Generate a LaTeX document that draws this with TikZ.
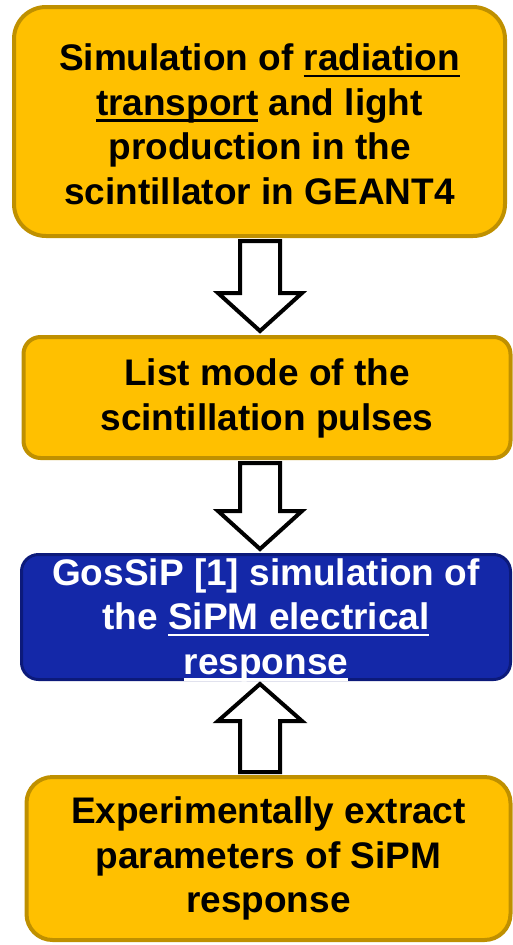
\documentclass[tikz,border=0pt]{standalone}
\usepackage{fontspec}
\setmainfont{Liberation Sans}
\usetikzlibrary{calc}
\definecolor{gold}{HTML}{FFC000}
\definecolor{golddk}{HTML}{BF9000}
\definecolor{bluef}{HTML}{1428A8}
\definecolor{bluedk}{HTML}{0C1A7A}
\newsavebox\myulbox
\newcommand\myul[1]{\sbox\myulbox{#1}\rlap{\rule[-6.5pt]{\wd\myulbox}{2.5pt}}\usebox\myulbox}
\begin{document}
\begin{tikzpicture}[x=1pt,y=-1pt,
  goldbox/.style={draw=golddk, fill=gold, line width=4pt, rounded corners=#1, inner sep=0pt},
  bluebox/.style={draw=bluedk, fill=bluef, line width=3pt, rounded corners=#1, inner sep=0pt},
  txt/.style={align=center, inner sep=0pt, font=\fontsize{37pt}{44.5pt}\selectfont\bfseries},
  barrow/.style={draw=black, fill=white, line width=4pt, line join=miter}]
\useasboundingbox (0,0) rectangle (513,945);
\node[goldbox=32pt, minimum width=491pt, minimum height=229pt] (b1) at (259.5,121.5) {};
\node[goldbox=17pt, minimum width=487pt, minimum height=121pt] (b2) at (267,397.5) {};
\node[bluebox=17pt, minimum width=489pt, minimum height=125pt] (b3) at (266,617) {};
\node[goldbox=26pt, minimum width=484pt, minimum height=163pt] (b4) at (268.5,858.5) {};
\coordinate (ax) at (260,0);
% down arrows
\draw[barrow] ($(b1.south -| ax)+(-20,3)$) -- ($(b2.north -| ax)+(-20,-42)$) -- ($(b2.north -| ax)+(-42,-42)$) -- ($(b2.north -| ax)+(0,-4)$) -- ($(b2.north -| ax)+(42,-42)$) -- ($(b2.north -| ax)+(20,-42)$) -- ($(b1.south -| ax)+(20,3)$) -- cycle;
\draw[barrow] ($(b2.south -| ax)+(-20,3)$) -- ($(b3.north -| ax)+(-20,-42)$) -- ($(b3.north -| ax)+(-42,-42)$) -- ($(b3.north -| ax)+(0,-4)$) -- ($(b3.north -| ax)+(42,-42)$) -- ($(b3.north -| ax)+(20,-42)$) -- ($(b2.south -| ax)+(20,3)$) -- cycle;
% up arrow
\draw[barrow] ($(b4.north -| ax)+(-20,-3)$) -- ($(b3.south -| ax)+(-20,40)$) -- ($(b3.south -| ax)+(-42,40)$) -- ($(b3.south -| ax)+(0,3)$) -- ($(b3.south -| ax)+(42,40)$) -- ($(b3.south -| ax)+(20,40)$) -- ($(b4.north -| ax)+(20,-3)$) -- cycle;
\node[txt] (t1) at ($(b1.center)+(0,3)$) {Simulation of \myul{radiation}\\\myul{transport} and light\\production in the\\scintillator in GEANT4};
\node[txt] (t2) at ($(b2.center)+(0,1)$) {List mode of the\\scintillation pulses};
\node[txt, text=white] (t3) at ($(b3.center)+(0,3)$) {GosSiP [1] simulation of\\the \myul{SiPM electrical}\\\myul{response}};
\node[txt] (t4) at ($(b4.center)+(0,0)$) {Experimentally extract\\parameters of SiPM\\response};
\end{tikzpicture}
\end{document}
